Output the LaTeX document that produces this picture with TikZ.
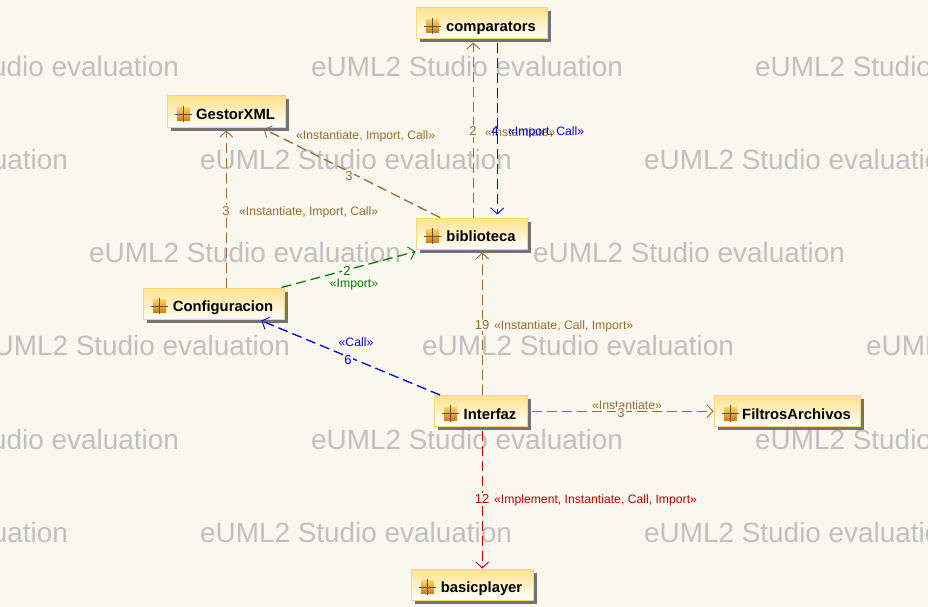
\documentclass[tikz,border=0pt]{standalone}
\usepackage{fontspec}
\setmainfont{Liberation Sans}
\usetikzlibrary{arrows.meta,shadows}

\definecolor{paper}{HTML}{FAF7EF}
\definecolor{wmgray}{HTML}{C0C0C0}
\definecolor{depbrown}{HTML}{996B33}
\definecolor{depblue}{HTML}{0000F0}
\definecolor{depgreen}{HTML}{008000}
\definecolor{depred}{HTML}{C00000}
\definecolor{boxline}{HTML}{F8D878}
\definecolor{boxtop}{HTML}{FFE28C}
\definecolor{icontop}{HTML}{F8D060}
\definecolor{iconbot}{HTML}{C88020}
\definecolor{iconline}{HTML}{6B5030}

\tikzset{
	pkgbox/.style={draw=boxline, line width=1pt, top color=boxtop, middle color=boxtop!35!white, bottom color=white,
		minimum width=#1, minimum height=31pt, inner sep=0pt,
		general shadow={shadow xshift=3.5pt, shadow yshift=-3.5pt, fill=black!55},
		text height=16pt, text depth=0pt,
		font=\fontsize{14.8}{16}\selectfont\bfseries},
	pkgicon/.style={minimum size=13pt, inner sep=0pt, top color=icontop, bottom color=iconbot},
	iconcross/.style={iconline, line width=0.9pt},
	dep/.style={line width=1.3pt, dash pattern=on 10pt off 5pt, shorten >=3pt,
		-{Straight Barb[length=6pt, width=13pt, line width=0.9pt]}},
	stereo/.style={font=\fontsize{12.2}{14}\selectfont, inner sep=0pt, yshift=-1.5pt},
	count/.style={font=\fontsize{13}{15}\selectfont, fill=paper, inner sep=1.5pt},
	watermark/.style={font=\fontsize{27.9}{32}\selectfont, text=wmgray, anchor=west, inner sep=0pt}
}

\newcommand{\pkgname}[1]{\hspace{19pt}#1}

\begin{document}
\begin{tikzpicture}[x=1pt, y=-1pt]
	\useasboundingbox (0,0) rectangle (928,607);
	\fill[paper] (0,0) rectangle (928,607);

	% filigrane
	\begin{scope}
		\clip (0,0) rectangle (928,607);
		\foreach \wx/\wy [count=\wi] in {
			-133/67, 311/67, 755/67,
			-244/160, 200/160, 644/160,
			89/253, 533/253,
			-22/346, 422/346, 866/346,
			-133/440, 311/440, 755/440,
			-244/533, 200/533, 644/533
		}{
			\node[watermark] (wm\wi) at (\wx,\wy) {eUML2 Studio evaluation};
		}
	\end{scope}

	% Paquets
	\node[pkgbox=131pt] (comparators) at (481.5,23.5) {\pkgname{comparators}};
	\node[pkgbox=118pt] (gestorxml) at (226,111.5) {\pkgname{GestorXML}};
	\node[pkgbox=111pt] (biblioteca) at (471.5,233.5) {\pkgname{biblioteca}};
	\node[pkgbox=141pt] (configuracion) at (213.5,303.5) {\pkgname{Configuracion}};
	\node[pkgbox=93pt] (interfaz) at (480.5,411) {\pkgname{Interfaz}};
	\node[pkgbox=146pt] (filtros) at (787,411) {\pkgname{FiltrosArchivos}};
	\node[pkgbox=122pt] (basicplayer) at (472,584.5) {\pkgname{basicplayer}};

	% Icones
	\foreach \pname in {comparators,gestorxml,biblioteca,configuracion,interfaz,filtros,basicplayer}{
		\node[pkgicon] (icon\pname) at ([shift={(17pt,-2.5pt)}]\pname.west) {};
		\draw[iconcross] ([xshift=-1.5pt]icon\pname.west) -- ([xshift=1.5pt]icon\pname.east);
		\draw[iconcross] ([yshift=1.5pt]icon\pname.north) -- ([yshift=-1.5pt]icon\pname.south);
	}

	% Dependances
	\draw[dep, depbrown] ([xshift=1.75pt]biblioteca.north) -- ([xshift=-8.25pt]comparators.south);
	\draw[dep, depblue, shorten <=4pt] ([xshift=15.75pt]comparators.south) -- ([xshift=25.75pt]biblioteca.north);
	\draw[dep, depbrown] ([xshift=-31.5pt]biblioteca.north) -- ([xshift=35pt]gestorxml.south);
	\draw[dep, depbrown] ([xshift=12.75pt]configuracion.north) -- ([xshift=0.25pt]gestorxml.south);
	\draw[dep, depgreen, shorten >=0pt] ([xshift=-3pt]configuracion.north east) -- ([yshift=-2pt]biblioteca.south west);
	\draw[dep, depblue] ([xshift=-40.5pt]interfaz.north) -- ([xshift=45pt]configuracion.south);
	\draw[dep, depbrown] ([xshift=1.75pt]interfaz.north) -- ([xshift=10.75pt]biblioteca.south);
	\draw[dep, depbrown, shorten <=4pt, shorten >=0pt] ([yshift=-0.25pt]interfaz.east) -- ([yshift=-0.25pt]filtros.west);
	\draw[dep, depred, shorten <=4pt, shorten >=0pt] ([xshift=1.75pt]interfaz.south) -- ([xshift=10.25pt]basicplayer.north);

	% Etiquettes
	\node[count, text=depbrown] (n2a) at (473,131) {2};
	\node[stereo, text=depbrown, anchor=west] (s2a) at (485,131) {«Instantiate»};
	\node[count, text=depblue, fill=none] (n4) at (495,131) {4};
	\node[stereo, text=depblue, anchor=west] (s4) at (508,131) {«Import, Call»};
	\node[count, text=depbrown] (n3a) at (349,176) {3};
	\node[stereo, text=depbrown, anchor=west] (s3a) at (296,135) {«Instantiate, Import, Call»};
	\node[count, text=depbrown] (n3b) at (226,211) {3};
	\node[stereo, text=depbrown, anchor=west] (s3b) at (239,211) {«Instantiate, Import, Call»};
	\node[count, text=depgreen] (n2b) at (347,271) {2};
	\node[stereo, text=depgreen] (s2b) at (354,283) {«Import»};
	\node[stereo, text=depblue] (s6) at (356,341) {«Call»};
	\node[count, text=depblue] (n6) at (348,360) {6};
	\node[count, text=depbrown] (n19) at (482,325) {19};
	\node[stereo, text=depbrown, anchor=west] (s19) at (494,325) {«Instantiate, Call, Import»};
	\node[stereo, text=depbrown] (s3c) at (627,404) {«Instantiate»};
	\node[count, text=depbrown] (n3c) at (621,413) {3};
	\node[count, text=depred] (n12) at (482,499) {12};
	\node[stereo, text=depred, anchor=west] (s12) at (494,499) {«Implement, Instantiate, Call, Import»};

\end{tikzpicture}
\end{document}
